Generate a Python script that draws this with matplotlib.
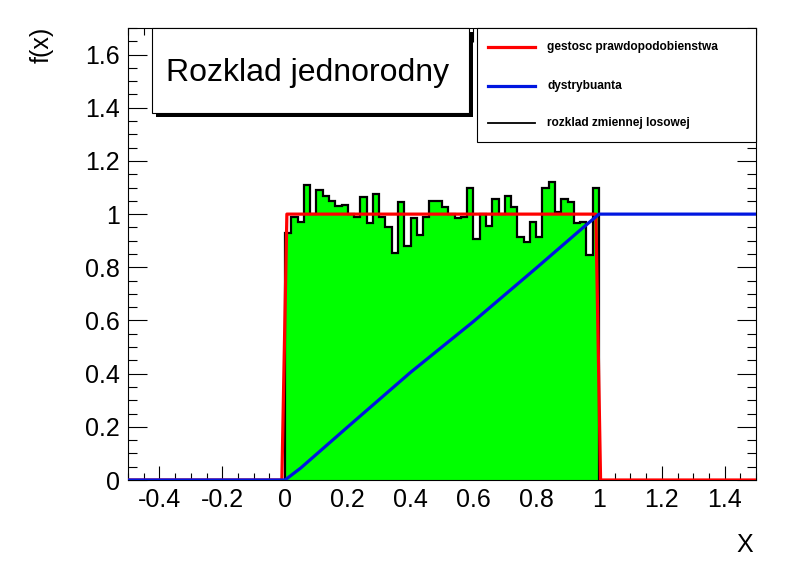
import numpy as np
import matplotlib
matplotlib.use('Agg')
import matplotlib.pyplot as plt
from matplotlib.patches import Rectangle
from matplotlib.lines import Line2D
from matplotlib.ticker import MultipleLocator

plt.rcParams['font.family'] = ['Liberation Sans', 'DejaVu Sans']

# histogram: 50 bins on [0, 1]
bin_edges = np.linspace(0.0, 1.0, 51)
counts = [0.93, 0.99, 0.97, 1.11, 1.00, 1.09, 1.07, 1.05, 1.03, 1.035,
          1.00, 0.99, 1.065, 0.965, 1.075, 0.99, 0.952, 0.855, 1.046, 0.881,
          0.984, 0.92, 0.988, 1.05, 1.049, 1.025, 1.00, 0.985, 0.99, 1.10,
          0.906, 1.00, 0.956, 1.055, 1.00, 1.068, 1.028, 0.914, 0.896, 0.970,
          0.914, 1.10, 1.121, 1.008, 1.055, 1.046, 0.965, 0.970, 0.846, 1.097]

# density function (sampled)
pdf_x = [-0.5, -0.01, 0.006, 0.99, 1.005, 1.5]
pdf_y = [0.0, 0.0, 1.0, 1.0, 0.0, 0.0]

# distribution function
cdf_x = [-0.5, 0.0, 0.05, 0.2, 0.4, 0.6, 0.8, 0.95, 1.0, 1.5]
cdf_y = [0.0, 0.0, 0.045, 0.2, 0.405, 0.596, 0.797, 0.95, 1.0, 1.0]

x_ticks = [-0.4, -0.2, 0, 0.2, 0.4, 0.6, 0.8, 1, 1.2, 1.4]
x_labels = ['-0.4', '-0.2', '0', '0.2', '0.4', '0.6', '0.8', '1', '1.2', '1.4']
y_ticks = [0, 0.2, 0.4, 0.6, 0.8, 1, 1.2, 1.4, 1.6]
y_labels = ['0', '0.2', '0.4', '0.6', '0.8', '1', '1.2', '1.4', '1.6']

W, H = 796, 572
fig = plt.figure(figsize=(W / 100, H / 100), dpi=100)
fig.patch.set_facecolor('white')

def fx(px):
    return px / W

def fy(py):
    return 1 - py / H

ax = fig.add_axes([fx(128), fy(480), fx(756) - fx(128), fy(28) - fy(480)])
ax.set_xlim(-0.5, 1.5)
ax.set_ylim(0, 1.7)

ax.stairs(counts, bin_edges, fill=True, color='#00ff00', zorder=2)
ax.stairs(counts, bin_edges, baseline=0, color='black', lw=1.6, zorder=3)
ax.plot(pdf_x, pdf_y, color='#ff0000', lw=2.3, zorder=4)
ax.plot(cdf_x, cdf_y, color='#0016e0', lw=2.3, zorder=5)

ax.set_xticks(x_ticks)
ax.set_xticklabels(x_labels)
ax.set_yticks(y_ticks)
ax.set_yticklabels(y_labels)
ax.xaxis.set_minor_locator(MultipleLocator(0.05))
ax.yaxis.set_minor_locator(MultipleLocator(0.05))
ax.tick_params(which='both', direction='in', top=True, right=True, labelsize=18)
ax.tick_params(axis='x', which='major', length=10, width=0.8, pad=6)
ax.tick_params(axis='x', which='minor', length=5, width=0.8)
ax.tick_params(axis='y', which='major', length=13.5, width=0.8, pad=6)
ax.tick_params(axis='y', which='minor', length=6.5, width=0.8)
for s in ax.spines.values():
    s.set_linewidth(0.8)

fig.text(fx(42), fy(45), 'f(x)', fontsize=18, rotation=90, ha='center', va='center')
fig.text(fx(745), fy(545), 'X', fontsize=18, ha='center', va='center')

# title box with shadow
tl, tt, tr, tb = 152, 28, 469, 113
fig.patches.append(Rectangle((fx(tl + 4), fy(tb + 4)), fx(tr - tl), fy(tt) - fy(tb),
                             transform=fig.transFigure, facecolor='black',
                             edgecolor='black', lw=0, zorder=10))
fig.patches.append(Rectangle((fx(tl), fy(tb)), fx(tr - tl), fy(tt) - fy(tb),
                             transform=fig.transFigure, facecolor='white',
                             edgecolor='black', lw=0.8, zorder=11))
fig.text(fx(308), fy(73), 'Rozklad jednorodny', fontsize=23, ha='center',
         va='center', zorder=12)

# legend box
ll, lt, lr, lb = 477, 28, 756, 142
fig.patches.append(Rectangle((fx(ll), fy(lb)), fx(lr - ll), fy(lt) - fy(lb),
                             transform=fig.transFigure, facecolor='white',
                             edgecolor='black', lw=0.8, zorder=11))
legend_names = ['gestosc prawdopodobienstwa', 'dystrybuanta', 'rozklad zmiennej losowej']
legend_colors = ['#ff0000', '#0016e0', 'black']
legend_rows = [47, 86, 123]
legend_widths = [2.3, 2.3, 1.3]
for name, c, row, w in zip(legend_names, legend_colors, legend_rows, legend_widths):
    fig.lines.append(Line2D([fx(488), fx(535)], [fy(row), fy(row)],
                            transform=fig.transFigure, color=c, lw=w, zorder=12))
    fig.text(fx(547), fy(row), name, fontsize=8.6, fontweight='bold',
             ha='left', va='center', zorder=12)

fig.savefig('out.png', dpi=100)
